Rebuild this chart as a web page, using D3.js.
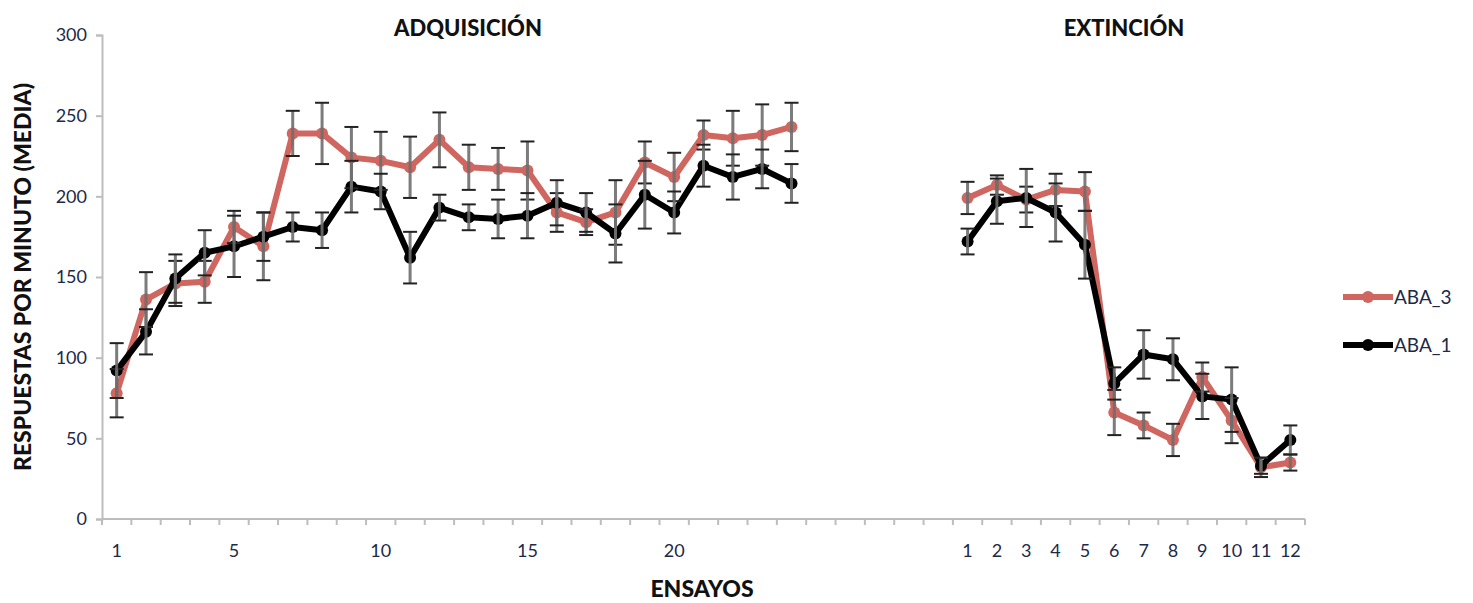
<!DOCTYPE html>
<html>
<head>
<meta charset="utf-8">
<script src="https://cdn.jsdelivr.net/npm/d3@7"></script>
<style>
  body { margin: 0; background: #fff; }
  svg text { font-family: Lato, "Open Sans", sans-serif; }
</style>
</head>
<body>
<svg id="chart" width="1473" height="603"></svg>
<script>
// trials per phase
var acqTrials = d3.range(1, 25);
var extTrials = d3.range(1, 13);
var gapSlots = 5;
var acqLabels = [1, 5, 10, 15, 20];

// ABA_3 (red)
var aba3Acq = [78, 136, 146, 147, 181, 169, 239, 239, 224, 222, 218, 235, 218, 217, 216, 190, 184, 190, 221, 212, 238, 236, 238, 243];
var aba3AcqErr = [15, 17, 14, 13, 10, 21, 14, 19, 19, 18, 19, 17, 14, 13, 18, 12, 8, 20, 13, 15, 9, 17, 19, 15];
var aba3Ext = [199, 207, 198, 204, 203, 66, 58, 49, 88, 61, 32, 35];
var aba3ExtErr = [10, 6, 8, 10, 12, 14, 8, 10, 9, 14, 6, 5];

// ABA_1 (black)
var aba1Acq = [92, 116, 149, 165, 169, 175, 181, 179, 206, 203, 162, 193, 187, 186, 188, 196, 190, 177, 201, 190, 219, 212, 217, 208];
var aba1AcqErr = [17, 14, 15, 14, 19, 15, 9, 11, 16, 11, 16, 8, 8, 12, 14, 14, 12, 18, 21, 13, 13, 14, 12, 12];
var aba1Ext = [172, 197, 199, 190, 170, 84, 102, 99, 76, 74, 33, 49];
var aba1ExtErr = [8, 14, 18, 18, 21, 10, 15, 13, 14, 20, 5, 9];

var seriesNames = ["ABA_3", "ABA_1"];
var seriesColors = ["#cf6660", "#000000"];

var svg = d3.select("#chart");
var margin = {left: 102, right: 168, top: 35, bottom: 84};
var W = 1473, H = 603;

var keys = acqTrials.map(function (d) { return "A" + d; })
    .concat(d3.range(1, gapSlots + 1).map(function (d) { return "G" + d; }))
    .concat(extTrials.map(function (d) { return "E" + d; }));

var x = d3.scaleBand().domain(keys).range([margin.left, W - margin.right]);
var y = d3.scaleLinear().domain([0, 300]).range([H - margin.bottom, margin.top]);
var cx = function (k) { return x(k) + x.bandwidth() / 2; };

var axisColor = "#bdbdbd";
var textColor = "#1c2a4a";
var titleColor = "#111";

// y axis
var yAxis = svg.append("g")
    .attr("transform", "translate(" + margin.left + ",0)")
    .call(d3.axisLeft(y).tickValues(d3.range(0, 301, 50)).tickSize(6).tickPadding(9));
yAxis.select(".domain").attr("stroke", axisColor).attr("stroke-width", 2);
yAxis.selectAll(".tick line").attr("stroke", axisColor).attr("stroke-width", 2);
yAxis.selectAll(".tick text").attr("fill", textColor).attr("font-size", 18);

// x axis (ticks between categories)
var xg = svg.append("g").attr("transform", "translate(0," + y(0) + ")");
xg.append("line")
    .attr("x1", margin.left).attr("x2", W - margin.right)
    .attr("stroke", axisColor).attr("stroke-width", 2);
xg.selectAll("line.tk")
    .data(keys.concat(["end"]))
    .enter().append("line")
    .attr("class", "tk")
    .attr("x1", function (d, i) { return margin.left + i * x.step(); })
    .attr("x2", function (d, i) { return margin.left + i * x.step(); })
    .attr("y1", 0).attr("y2", 6)
    .attr("stroke", axisColor).attr("stroke-width", 2);

var tickLabels = acqLabels.map(function (d) { return {k: "A" + d, t: d}; })
    .concat(extTrials.map(function (d) { return {k: "E" + d, t: d}; }));
xg.selectAll("text")
    .data(tickLabels)
    .enter().append("text")
    .attr("x", function (d) { return cx(d.k); })
    .attr("y", 38)
    .attr("text-anchor", "middle")
    .attr("font-size", 18)
    .attr("fill", textColor)
    .text(function (d) { return d.t; });

// titles
svg.append("text").attr("x", 468).attr("y", 36).attr("text-anchor", "middle")
    .attr("font-size", 22).attr("font-weight", "900").attr("fill", titleColor).text("ADQUISICIÓN");
svg.append("text").attr("x", 1124).attr("y", 36).attr("text-anchor", "middle")
    .attr("font-size", 22).attr("font-weight", "900").attr("fill", titleColor).text("EXTINCIÓN");
svg.append("text").attr("x", 702).attr("y", 597).attr("text-anchor", "middle")
    .attr("font-size", 23).attr("font-weight", "900").attr("fill", titleColor).text("ENSAYOS");
svg.append("text")
    .attr("transform", "translate(31," + ((y(0) + y(300)) / 2) + ") rotate(-90)")
    .attr("text-anchor", "middle")
    .attr("font-size", 23).attr("font-weight", "900").attr("fill", titleColor)
    .text("RESPUESTAS POR MINUTO (MEDIA)");

// build segments
function seg(prefix, trials, vals, errs) {
    return trials.map(function (t, i) { return {k: prefix + t, v: vals[i], e: errs[i]}; });
}
var series = [
    {name: seriesNames[0], color: seriesColors[0], parts: [seg("A", acqTrials, aba3Acq, aba3AcqErr), seg("E", extTrials, aba3Ext, aba3ExtErr)]},
    {name: seriesNames[1], color: seriesColors[1], parts: [seg("A", acqTrials, aba1Acq, aba1AcqErr), seg("E", extTrials, aba1Ext, aba1ExtErr)]}
];

var line = d3.line()
    .x(function (d) { return cx(d.k); })
    .y(function (d) { return y(d.v); });

series.forEach(function (s) {
    var g = svg.append("g").attr("class", "series");
    s.parts.forEach(function (pts) {
        g.append("path")
            .datum(pts)
            .attr("d", line)
            .attr("fill", "none")
            .attr("stroke", s.color)
            .attr("stroke-width", 6)
            .attr("stroke-linejoin", "round");
        g.selectAll(null)
            .data(pts)
            .enter().append("circle")
            .attr("cx", function (d) { return cx(d.k); })
            .attr("cy", function (d) { return y(d.v); })
            .attr("r", 6)
            .attr("fill", s.color);
    });
});

// error bars on top
var cap = 7;
series.forEach(function (s) {
    var eg = svg.append("g").attr("class", "errbars");
    s.parts.forEach(function (pts) {
        var b = eg.selectAll(null).data(pts).enter().append("g");
        b.append("line")
            .attr("x1", function (d) { return cx(d.k); })
            .attr("x2", function (d) { return cx(d.k); })
            .attr("y1", function (d) { return y(d.v + d.e); })
            .attr("y2", function (d) { return y(d.v - d.e); })
            .attr("stroke", "#6e6e6e").attr("stroke-width", 3).attr("opacity", 0.9);
        [1, -1].forEach(function (sign) {
            b.append("line")
                .attr("x1", function (d) { return cx(d.k) - cap; })
                .attr("x2", function (d) { return cx(d.k) + cap; })
                .attr("y1", function (d) { return y(d.v + sign * d.e); })
                .attr("y2", function (d) { return y(d.v + sign * d.e); })
                .attr("stroke", "#222").attr("stroke-width", 2);
        });
    });
});

// legend
var legend = svg.append("g");
series.forEach(function (s, i) {
    var ly = 297 + i * 48;
    legend.append("line").attr("x1", 1343).attr("x2", 1393).attr("y1", ly).attr("y2", ly)
        .attr("stroke", s.color).attr("stroke-width", 6);
    legend.append("circle").attr("cx", 1368).attr("cy", ly).attr("r", 6).attr("fill", s.color);
    legend.append("text").attr("x", 1394).attr("y", ly + 7).attr("font-size", 19)
        .attr("fill", textColor).text(s.name);
});
</script>
</body>
</html>
